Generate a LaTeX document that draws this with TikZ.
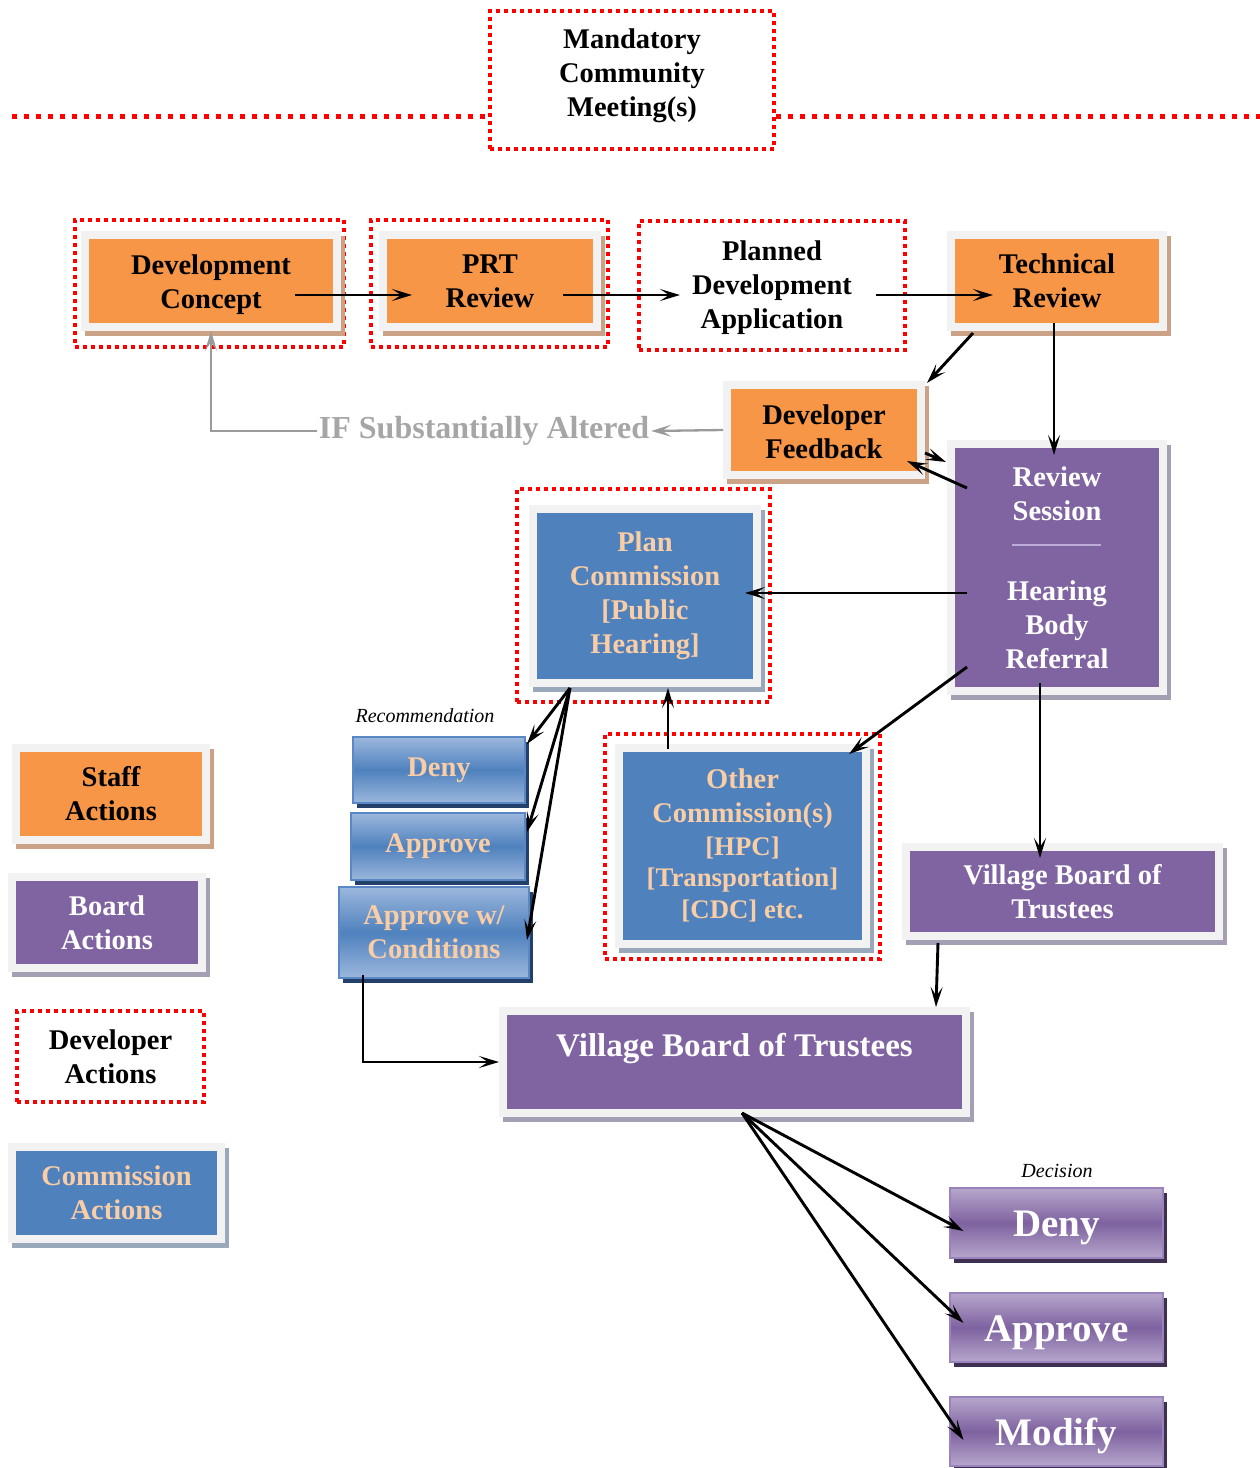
\documentclass[tikz,border=0pt]{standalone}
\usepackage{fontspec}
\setmainfont{Liberation Serif}
\usetikzlibrary{arrows.meta,calc}
\definecolor{org}{HTML}{F79646}
\definecolor{orgsh}{HTML}{CBA285}
\definecolor{pur}{HTML}{8064A2}
\definecolor{pursh}{HTML}{A59FB3}
\definecolor{blu}{HTML}{4F81BD}
\definecolor{blush}{HTML}{9AA8BB}
\definecolor{fgrey}{HTML}{F2F2F2}
\definecolor{peach}{HTML}{F9CDA6}
\definecolor{gtext}{HTML}{A6A6A6}
\definecolor{gline}{HTML}{9A9A9A}
\definecolor{rlight}{HTML}{9BB7DD}
\definecolor{rmid}{HTML}{4F81BD}
\definecolor{rbord}{HTML}{5A88C4}
\definecolor{rshad}{HTML}{22406A}
\definecolor{dlight}{HTML}{B7A7CC}
\definecolor{dmid}{HTML}{7E62A0}
\definecolor{dbord}{HTML}{9A82BC}
\definecolor{dshad}{HTML}{3E3050}
\definecolor{seplight}{HTML}{BBABD6}
\newcommand\smallsz{\fontsize{26.8}{31}\selectfont}
\tikzset{
  txt/.style={font=\bfseries\fontsize{28.5}{34}\selectfont, align=center},
  frame/.style n args={3}{txt, draw=fgrey, line width=8pt, fill=#1, text=#3, inner sep=0pt,
     preaction={draw=#2, fill=#2, line width=8pt, transform canvas={shift={(4pt,-5pt)}}}},
  staff/.style={frame={org}{orgsh}{black}},
  board/.style={frame={pur}{pursh}{white}},
  comm/.style={frame={blu}{blush}{peach}},
  devbox/.style={draw=red, line width=4pt, dash pattern=on 4pt off 4pt, inner sep=0pt},
  topline/.style={draw=red, line width=5pt, dash pattern=on 5pt off 7pt},
  rec/.style={txt, text=peach, draw=rbord, line width=2pt, top color=rlight, bottom color=rlight,
     middle color=rmid, inner sep=0pt, preaction={fill=rshad, transform canvas={shift={(4pt,-5pt)}}}},
  dec/.style={font=\bfseries\fontsize{39}{44}\selectfont, text=white, draw=dbord, line width=2pt,
     top color=dlight, bottom color=dlight, middle color=dmid, inner sep=0pt,
     execute at begin node={\rule{0pt}{36pt}},
     preaction={fill=dshad, transform canvas={shift={(4pt,-5pt)}}}},
  tip/.style={-{Stealth[length=20pt,width=12pt,inset=9pt]}},
  conn/.style={line width=2.9pt, tip},
  gconn/.style={line width=2.3pt, draw=gline, tip},
  lab/.style={font=\itshape\fontsize{20}{24}\selectfont},
}
\begin{document}
\begin{tikzpicture}[x=1pt,y=-1pt]
\useasboundingbox (0,0) rectangle (1260,1468);

% top meeting box and line
\node[devbox, txt, minimum width=284pt, minimum height=138pt] (mcm) at (632,80) {Mandatory\\Community\\Meeting(s)\rule[-15pt]{0pt}{1pt}};
\coordinate (tll) at (12,116);
\coordinate (trr) at (1262,116);
\draw[topline] (tll) -- (tll -| mcm.west);
\draw[topline] (trr -| mcm.east) -- (trr);

% developer (red dotted) boxes
\node[devbox, minimum width=269pt, minimum height=127pt] (dcr) at (209.5,283.5) {};
\node[devbox, minimum width=237pt, minimum height=127pt] (prtr) at (489.5,283.5) {};
\node[devbox, txt, minimum width=266pt, minimum height=129pt] (pda) at (772,285.5) {\rule{0pt}{23.5pt}Planned\\Development\\Application};
\node[devbox, minimum width=253pt, minimum height=213pt] (pcr) at (643.5,595.5) {};
\node[devbox, minimum width=275pt, minimum height=225pt] (ocr) at (742.5,846.5) {};

% staff boxes
\node[staff, minimum width=252pt, minimum height=92pt] (dc) at (211,281) {\rule{0pt}{27pt}Development\\Concept};
\node[staff, minimum width=214pt, minimum height=92pt] (prt) at (490,281) {PRT\\Review};
\node[staff, minimum width=212pt, minimum height=92pt] (tr) at (1057,281) {Technical\\Review};
\node[staff, minimum width=194pt, minimum height=90pt] (df) at (824,430) {\rule{0pt}{23.5pt}Developer\\Feedback};

% board boxes
\node[board, minimum width=212pt, minimum height=247pt] (rs) at (1057,567.5) {Review\\Session\\[46pt]Hearing\\Body\\Referral};
\node[board, minimum width=313pt, minimum height=89pt] (vbs) at (1062.5,891.5) {Village Board of\\Trustees};
\node[board, minimum width=463pt, minimum height=102pt, font=\bfseries\fontsize{33}{40}\selectfont] (vbb) at (734.5,1062) {Village Board of Trustees\\[-6pt]\mbox{}};

% commission boxes
\node[comm, minimum width=224pt, minimum height=174pt] (pc) at (645,596) {Plan\\Commission\\{[}Public\\Hearing]};
\node[comm, minimum width=247pt, minimum height=196pt] (oc) at (742.5,846) {Other\\Commission(s)\\[-1pt]\smallsz{[}HPC]\\[-3pt]\smallsz{[}Transportation]\\[-2pt]\smallsz{[}CDC] etc.\rule[-5pt]{0pt}{1pt}};

% recommendation boxes
\node[lab] (lrec) at (425,716) {Recommendation};
\node[rec, minimum width=172pt, minimum height=66pt] (rd) at (439,770) {Deny};
\node[rec, minimum width=174pt, minimum height=67pt] (ra) at (438,846.5) {Approve};
\node[rec, minimum width=190pt, minimum height=91pt] (rw) at (434,932.5) {Approve w/\\Conditions};

% decision boxes
\node[lab] (ldec) at (1057,1171) {Decision};
\node[dec, minimum width=213pt, minimum height=70pt] (dd) at (1056.5,1223) {Deny};
\node[dec, minimum width=213pt, minimum height=69pt] (da) at (1056.5,1327.5) {Approve};
\node[dec, minimum width=213pt, minimum height=69pt] (dm) at (1056.5,1431.5) {Modify};

% legend
\node[staff, minimum width=190pt, minimum height=92pt] (lstaff) at (111,794) {Staff\\Actions};
\node[board, minimum width=190pt, minimum height=91pt] (lboard) at (107,922.5) {Board\\Actions};
\node[devbox, txt, minimum width=187pt, minimum height=91pt] (ldev) at (110.5,1056.5) {Developer\\Actions};
\node[comm, minimum width=209pt, minimum height=92pt] (lcomm) at (116.5,1193) {Commission\\Actions};

% IF label
\node[font=\bfseries\fontsize{32}{36}\selectfont, text=gtext, inner sep=2pt] (ifn) at (484,431) {IF Substantially Altered};

% separator in review session
\draw[seplight, line width=1.5pt] ($(rs)+(-45,-22.5)$) -- ($(rs)+(44,-22.5)$);

% connectors
\draw[conn] ($(dc)+(84,14)$) -- ($(prt)+(-78,14)$);
\draw[conn] ($(prt)+(73,14)$) -- ($(pda)+(-92,9.5)$);
\draw[conn] ($(pda)+(104,9.5)$) -- ($(tr)+(-64,14)$);
\draw[conn] ($(tr)+(-84,52)$) -- ($(df)+(103,-47)$);
\draw[conn] ($(tr)+(-3,42)$) -- ($(rs)+(-3,-112.5)$);
\draw[conn] ($(df)+(101,23)$) -- ($(rs)+(-111,-105.5)$);
\draw[conn] ($(rs)+(-90,-79.5)$) -- ($(df)+(83,31)$);
\draw[gconn] (df.west) -- (ifn.east);
\draw[gconn] (ifn.west) -| (dc.south);
\draw[conn] ($(rs)+(-90,25.5)$) -- ($(pc)+(100,-3)$);
\draw[conn] ($(rs)+(-90,99.5)$) -- ($(oc)+(106.5,-92)$);
\draw[conn] ($(rs)+(-17,115.5)$) -- ($(vbs)+(-22.5,-33.5)$);
\draw[conn] ($(oc)+(-74.5,-97)$) -- ($(pc)+(23,92)$);
\draw[conn] ($(pc)+(-75,92)$) -- ($(rd)+(88,-26)$);
\draw[conn] ($(pc)+(-75,92)$) -- ($(ra)+(89,-14.5)$);
\draw[conn] ($(pc)+(-75,92)$) -- ($(rw)+(93,7.5)$);
\draw[conn] ($(rw)+(-71,42.5)$) |- (vbb.west);
\draw[conn] ($(vbs)+(-124.5,51.5)$) -- ($(vbb)+(201.5,-55)$);
\draw[conn] ($(vbb)+(7.5,51)$) -- ($(dd)+(-93,8)$);
\draw[conn] ($(vbb)+(7.5,51)$) -- ($(da)+(-93,-4.5)$);
\draw[conn] ($(vbb)+(7.5,51)$) -- ($(dm)+(-93,8.5)$);
\end{tikzpicture}
\end{document}
